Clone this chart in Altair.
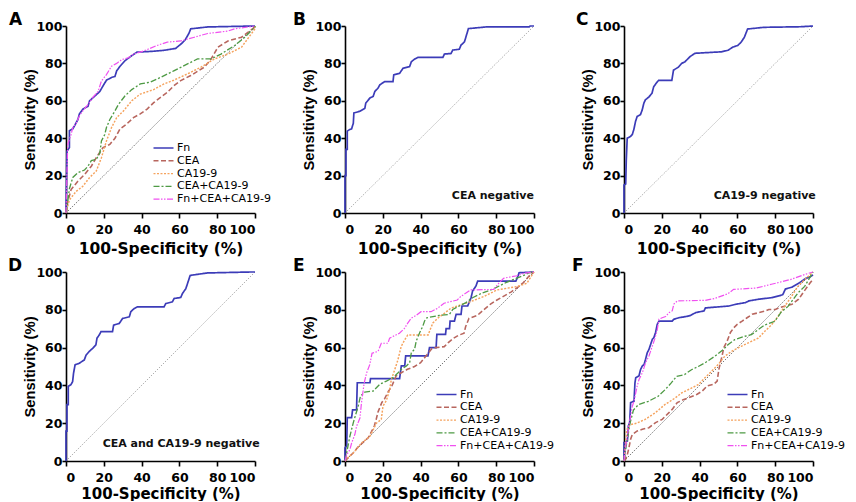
import altair as alt
import pandas as pd

SERIES = ["Fn", "CEA", "CA19-9", "CEA+CA19-9", "Fn+CEA+CA19-9"]
COLORS = ["#3c3cb8", "#b8665e", "#f5a35e", "#4e9a44", "#f050f0"]
DASHES = [[1, 0], [5, 2.5], [2, 1.5], [6, 2, 2, 2], [6, 1.5, 1.5, 1.5, 1.5, 1.5]]
WIDTHS = [1.7, 1.2, 1.2, 1.2, 1.2]
TICKS = [0, 20, 40, 60, 80, 100]

# ---- Panel A ----
A_FN = [(0,0),(0.5,33),(1.8,35),(1.8,44),(3.6,45),(4.5,46.6),(6.3,50),(7.1,53),(8.9,55.5),(11.6,57),(12.5,60),(15.2,62.5),(17.9,65),(19.6,68),(21.4,71),(24.1,72.5),(25.9,73),(26.8,76),(28.6,78.5),(31.3,81.5),(33.9,83.5),(37.5,86),(46.4,86.5),(51.8,87),(58,88),(61,90.5),(63,92.5),(65,96),(66,98.5),(75,99.5),(100,100)]
A_CEA = [(0,0),(0.9,6),(2.7,12.5),(6.25,17),(9.8,20.6),(13.4,25),(16,29.6),(19.6,35),(23.2,36.7),(25.9,40),(28.6,45),(32,47.5),(35.7,51),(39.3,53),(42.9,55.6),(46.4,59),(50,61.8),(53.6,64.5),(57,68),(60.7,70.8),(66,73.5),(73.2,78),(76.8,82.4),(80.4,88.7),(85.7,92),(92.9,94),(100,99.5),(100,100)]
A_CA199 = [(0,0),(0.9,3.6),(1.8,7),(5.4,11.6),(8.9,14.3),(12.5,19),(16,22.4),(18.75,29.6),(21.4,38.5),(24.1,45.7),(26.8,51),(30.4,54.6),(34.8,60),(39.3,63.6),(46.4,66),(51.8,69),(57,71),(64.3,74.4),(71.4,78),(78.6,82.4),(85.7,85),(92.9,88.7),(100,98.5),(100,100)]
A_CEACA = [(0,0),(0.9,6),(1.8,13),(3.6,19),(6.25,21.5),(9.8,23),(11.6,25),(13.4,28),(16,28.7),(17.9,32),(18.75,38.5),(20.5,42),(21.4,45.7),(23.2,50),(25.9,54.6),(27.7,58),(31.25,62.7),(34.8,66),(39.3,69),(44.6,70),(50,72.5),(57,76),(64.3,79.7),(69.6,82.4),(76.8,82.4),(82,85),(89.3,89.6),(94.6,94),(100,99.5),(100,100)]
A_ALL = [(0,0),(0.9,36.7),(2.7,42),(3.6,45.7),(5.4,48),(7.1,52),(8.9,54.6),(11.6,58),(14.3,62),(17,65),(18.75,70.6),(21.4,74),(24.1,78.5),(26.8,80),(29.5,82),(33,83),(35.7,85),(41,86.6),(48.2,89.6),(53.6,91.4),(60.7,92),(67.9,94),(75,96),(85.7,97.3),(89.3,98.5),(100,100)]

# ---- Panels B, C, D (Fn only) ----
B_FN = [(0,0),(0,20),(0.5,20),(0.5,34),(1.2,34),(1.2,43.8),(2.6,44.7),(3.5,45),(4.4,48),(4.7,53.5),(7.9,54.4),(10.5,56),(11,58.8),(13.2,61.5),(14.9,62.4),(15.8,65),(17.5,66.8),(18.4,68.5),(21,70.3),(25.4,70.3),(25.8,73.9),(28.9,74.7),(30.7,77.4),(34.2,78.3),(35.1,80.9),(36.8,82.3),(38.6,83.2),(51.8,83.2),(52.6,85),(56.1,85.3),(57,87.1),(60.5,87.6),(61.4,89.8),(63.2,91.5),(64,94.2),(65.3,98.6),(74.6,99.5),(97.4,99.5),(98,100),(100,100)]
C_FN = [(0,0),(0,15),(0.9,15.5),(1.2,28),(1.7,40),(3.5,41),(4.4,42),(5.2,44.6),(6.1,49),(7,51.7),(8.7,52.6),(9.6,55),(10.5,58.7),(11.3,60.5),(13.1,62),(14.8,64),(15.7,67.5),(17.5,70),(18.3,70.9),(25.3,70.9),(26.2,76.4),(28.8,78),(30.5,80),(32.3,80.9),(34.9,83.6),(37.5,85.4),(51.5,86.2),(55,87),(57.6,88.7),(60.2,89.6),(62,91.4),(63.7,94),(65.4,98.4),(74.2,99.3),(93.4,99.6),(100,100)]
D_FN = [(0,0),(0,15.8),(0.5,15.8),(0.5,29.8),(1.2,29.8),(1.2,39.5),(2.6,40.4),(3.5,42),(4,46.5),(4.8,50.9),(7,51.7),(9.7,53.5),(10.6,56),(12.3,58),(14.1,59.6),(15.8,61.4),(16.4,65),(17.6,66.7),(18.5,68.4),(24.6,68.4),(25.2,71.9),(28.2,72.8),(29.9,75.4),(33.5,76.3),(34.3,79),(36.1,80.7),(37.9,81.6),(51.9,81.6),(52.8,83.3),(56.3,84.2),(57.2,86),(60.7,86.5),(61.6,88.6),(63.4,91.2),(64.3,93.9),(65.7,98.2),(74.8,99.5),(97.7,100),(100,100)]

# ---- Panel E ----
E_FN = [(0,0),(0,7),(0.9,8),(1.2,23),(3.5,23),(4,27),(6.1,27),(6.5,41.4),(13.2,41.4),(13.5,43.6),(28.9,43.6),(29.3,46.7),(29.8,50.3),(31.6,50.3),(32.1,55.6),(43.9,55.6),(44.7,60),(48.2,60),(48.6,67),(53.2,67),(53.5,70),(55.3,70),(55.6,74),(57.9,74),(58.8,77.6),(61.4,77.6),(61.9,82),(64.9,82),(66.7,86.4),(67.5,89.9),(69.3,92.6),(70.2,95.2),(90.4,95.2),(91.2,97),(92.1,99.6),(100,100)]
E_CEA = [(0,0),(2.6,2.6),(4.4,4.4),(7,7.5),(9.7,10),(12.3,12.3),(14,15.5),(15.5,18.5),(16.5,22),(17.5,26),(19.5,31),(21,33),(23,37),(24.5,39),(26.2,43),(27,45),(29.8,46.7),(33,48.5),(36.8,50),(40,52),(42,54.5),(44,57),(46,59.5),(48,60),(52.5,60.5),(54.5,62.5),(57.5,65),(60,66.5),(63,67.6),(63.8,71),(65.6,75.5),(70,77),(73.4,80),(77,83),(80.4,85.2),(84.5,87.5),(88,89.5),(91.5,92),(94.4,94.4),(97.5,98),(100,100)]
E_CA199 = [(0,0),(1.7,2),(4.4,4.2),(8.7,9.5),(13.1,13),(14.9,16.5),(16.6,20),(19.2,22),(20.1,29),(21.9,32),(23.6,37.7),(24.5,43),(26.2,48),(28,53.5),(29.7,60.5),(31.5,64),(33.2,66.7),(44,66.7),(45,69.4),(46.5,73),(49,75.5),(52.4,78),(56,80.8),(61.2,82.6),(66.4,84.3),(73.4,87),(80.4,90.5),(91,92.3),(96.2,94),(100,100)]
E_CEACA = [(0,0),(0.9,4.4),(2.6,13.2),(4.4,20.3),(7,29.1),(8.2,34.4),(10.5,36.5),(14.9,37),(18.4,40.6),(21.9,42.3),(25.4,44.1),(28.1,46.7),(29.8,48.5),(32.5,50.3),(34.2,52),(35.1,57.3),(36.8,59.1),(37.7,63.5),(39.5,67.9),(41.2,71.4),(42.1,74.1),(43.3,75.8),(50,77),(55.3,77.6),(57,80.2),(60.5,82),(64,83.8),(67.5,86.4),(72.8,89),(78,90.8),(81.6,92.6),(85.1,94.4),(88.6,95.8),(93.9,97.9),(97.4,99.6),(100,100)]
E_ALL = [(0,0),(0.9,3.3),(2.6,6),(3.5,9.5),(5.2,14),(6.1,18.3),(7.9,22.7),(8.7,30.6),(9.3,35),(10.1,41),(11.4,46.5),(13.1,51),(14.3,57),(17.5,58),(19.2,62.3),(22.7,62.3),(23.6,65),(28.8,67.6),(31.5,70.2),(33.2,73),(35,75.5),(37.6,77),(40.2,79),(45.5,79),(49,80.8),(52.4,83.5),(59.4,85.2),(61.2,87),(63.8,88.7),(66.4,90.5),(78.7,90.8),(81.3,94),(83.9,96.7),(90.9,98),(94.4,99.3),(100,100)]

# ---- Panel F ----
F_FN = [(0,0),(0,9.7),(0.5,9.7),(1.8,10.6),(2.3,18.5),(3,20.3),(3.5,30.9),(5.3,31.7),(5.8,41.4),(6.2,44),(7.9,45),(8.8,48.5),(9.7,50.3),(10.6,51),(11.4,53.8),(12.3,57.3),(13.2,59),(14.1,61.7),(15,64.4),(15.8,65.3),(16.7,68),(17.6,72.3),(18.5,74),(25.5,74),(26.4,75),(29,75.8),(32.6,76.4),(35.2,77),(37.9,78.5),(42.3,79.4),(43.1,81),(55.5,82),(59,82.9),(64.3,83.8),(66,84.7),(71.3,85.6),(78,86.4),(82.5,87.5),(84,88),(85.4,91),(88.9,92),(92.4,94),(96,96.5),(98.6,97.5),(100,98.5)]
F_CEA = [(0,0),(0.9,1),(1.8,3.5),(2.6,7),(3.5,11.5),(4.4,14),(7,15.9),(9.7,16.8),(13.2,17.6),(16.7,20.3),(20.2,22),(23.8,25.6),(25.5,27.3),(28.2,30.9),(31.7,32.6),(34.3,33.5),(38.7,35.3),(41.4,37),(44,39.7),(47.5,40.6),(49.3,42.3),(50.2,48.5),(51,52),(51.9,55.6),(52.8,60),(54.6,63.5),(56.3,68),(58.1,70.5),(59.9,72.3),(62.5,74),(65.1,75.8),(67.8,77.6),(71.3,78.5),(74.8,79.4),(76.6,80.2),(80.1,80.2),(81.9,81),(85.4,82),(88.9,82.9),(92.4,85.6),(94.2,88.2),(96,90.8),(98.6,94.4),(100,96)]
F_CA199 = [(0,0),(1.4,16.5),(3.2,19.2),(6.7,20),(11,21.9),(16.4,25.4),(21.6,29.8),(27,33.3),(30.5,36),(35.7,38.6),(39.3,40.4),(42.8,44),(46.3,47.4),(49.8,51),(53.3,55.4),(56.9,58),(62,60.7),(67.4,63.3),(71,65),(74.5,68.6),(78,72),(81.5,76.5),(85,81.8),(88.6,87),(92,92.4),(95.6,96),(100,100)]
F_CEACA = [(0,0),(1.4,9.5),(3.2,20),(5,27),(7.6,29.8),(12.9,31.6),(18,34.2),(21.7,37.7),(25,41.3),(27.8,44.8),(32,45.7),(35.7,48.3),(39.3,50),(42.8,51.9),(48,55.4),(52.5,58.9),(55,61.5),(58.6,64.2),(64,66),(67.4,66.8),(71,69.5),(74.5,72),(79.8,73.9),(83.3,79),(86.8,81.8),(92,88.9),(95.6,92.4),(100,100)]
F_ALL = [(0,0),(0.9,8),(1.8,13),(2.6,19.4),(3.5,23.8),(4.4,29),(5.3,31.7),(6.2,36),(7,39.7),(7.9,43),(9.7,46.7),(10.6,49.4),(11.4,52),(13.2,55.6),(15,60.8),(16.4,65),(17.6,69.5),(18.5,75),(20.2,75.8),(22,76.4),(23.8,78.5),(25.5,79.4),(26.4,83),(28.2,84.7),(43,85),(48,86),(55,88.5),(58,90.8),(70,91.5),(78,93.5),(88,96),(96,98.8),(100,100)]

DIAG = [(0, 0), (100, 100)]

TOP = dict(h=187, xtp=6, xfs=15.5)
BOT = dict(h=189, xtp=2.5, xfs=15)

PANELS = [
    dict(letter="A", dx=-57, curves=[A_FN, A_CEA, A_CA199, A_CEACA, A_ALL], legend=(92, 116.5), note=None, diag="#333333", **TOP),
    dict(letter="B", dx=-52, curves=[B_FN], legend=None, note=("CEA negative", 100), diag="#888888", **TOP),
    dict(letter="C", dx=-48, curves=[C_FN], legend=None, note=("CA19-9 negative", 101.5), diag="#888888", **TOP),
    dict(letter="D", dx=-58, curves=[D_FN], legend=None, note=("CEA and CA19-9 negative", 102.5), diag="#888888", **BOT),
    dict(letter="E", dx=-52, curves=[E_FN, E_CEA, E_CA199, E_CEACA, E_ALL], legend=(96, 117), note=None, diag="#333333", **BOT),
    dict(letter="F", dx=-52, curves=[F_FN, F_CEA, F_CA199, F_CEACA, F_ALL], legend=(108, 117), note=None, diag="#333333", **BOT),
]

W = 189


def make_panel(p):
    rows = []
    for name, pts in zip(SERIES, p["curves"]):
        for i, (fx, ty) in enumerate(pts):
            rows.append({"series": name, "i": i, "fpr": fx, "tpr": ty})
    df = pd.DataFrame(rows)

    xenc = alt.X("fpr:Q", scale=alt.Scale(domain=[0, 100], nice=False),
                 axis=alt.Axis(values=TICKS, title="100-Specificity (%)",
                               titlePadding=p["xtp"], titleFontSize=p["xfs"]))
    yenc = alt.Y("tpr:Q", scale=alt.Scale(domain=[0, 100], nice=False),
                 axis=alt.Axis(values=TICKS, title="Sensitivity (%)"))

    if p["legend"] is not None:
        lx, ly = p["legend"]
        leg = alt.Legend(title=None, orient="none", legendX=lx, legendY=ly,
                         symbolType="M-2.5,0L2.5,0", symbolSize=64, symbolStrokeWidth=1.4,
                         labelFont="DejaVu Sans", labelFontSize=11, labelColor="black",
                         labelOffset=8, rowPadding=0.8, padding=0)
    else:
        leg = None

    diag_df = pd.DataFrame(DIAG, columns=["fpr", "tpr"])
    diag = alt.Chart(diag_df).mark_line(color=p["diag"], strokeWidth=0.8,
                                        strokeDash=[1.2, 1.6]).encode(x=xenc, y=yenc)

    lines = alt.Chart(df).mark_line().encode(
        x=xenc, y=yenc,
        color=alt.Color("series:N", scale=alt.Scale(domain=SERIES, range=COLORS), legend=leg),
        strokeDash=alt.StrokeDash("series:N", scale=alt.Scale(domain=SERIES, range=DASHES), legend=leg),
        strokeWidth=alt.StrokeWidth("series:N", scale=alt.Scale(domain=SERIES, range=WIDTHS), legend=None),
        order=alt.Order("i:Q"),
    )
    layers = [diag, lines]
    if p["note"] is not None:
        txt, nx = p["note"]
        note_df = pd.DataFrame([{"fpr": nx, "tpr": 7.5, "label": txt}])
        layers.append(alt.Chart(note_df).mark_text(
            align="right", baseline="alphabetic", font="DejaVu Sans", fontWeight="bold",
            fontSize=11, color="#111111").encode(x=xenc, y=yenc, text="label:N"))
    title = alt.TitleParams(text=p["letter"], anchor="start", frame="group", dx=p["dx"], dy=10, offset=1,
                            font="DejaVu Sans", fontWeight="bold", fontSize=17, color="black")
    return alt.layer(*layers).properties(width=W, height=p["h"], title=title)


panels = [make_panel(p) for p in PANELS]

chart = alt.concat(*panels, columns=3, spacing={"row": 59, "column": 90}, bounds="flush").resolve_scale(
    color="independent", strokeDash="independent", strokeWidth="independent"
).resolve_legend(
    color="independent", strokeDash="independent", strokeWidth="independent"
).properties(
    padding={"left": 0, "top": 3, "right": 0, "bottom": 0}
).configure_view(stroke=None).configure_axis(
    grid=False, domainColor="black", domainWidth=1.6, tickColor="black", tickWidth=1.6,
    labelFont="DejaVu Sans", labelFontWeight="bold", labelFontSize=12.5,
    labelColor="black", titleColor="black", titleFontWeight="bold",
).configure_axisX(
    tickSize=5, labelPadding=5, titleFont="DejaVu Sans",
).configure_axisY(
    tickSize=4, labelPadding=0, titleFont="Liberation Sans", titleFontSize=14.8, titlePadding=-2,
)

chart.save("out.html", embed_options={"renderer": "svg", "actions": False})
